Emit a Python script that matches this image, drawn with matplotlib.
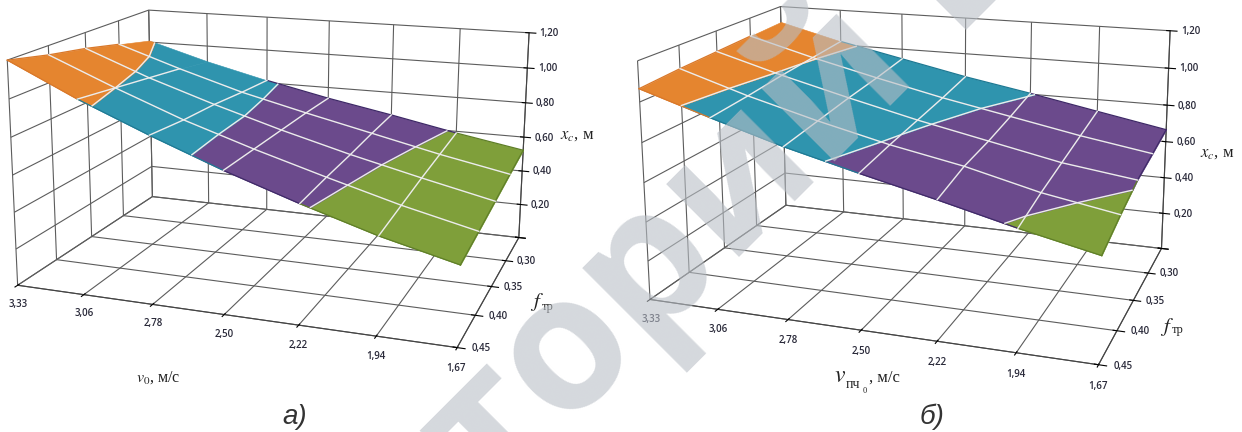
import matplotlib
matplotlib.use("Agg")
import matplotlib.pyplot as plt
import numpy as np
from mpl_toolkits.mplot3d import proj3d
from mpl_toolkits.mplot3d.art3d import Poly3DCollection

plt.rcParams['font.family'] = ['Open Sans', 'DejaVu Sans']
plt.rcParams['mathtext.fontset'] = 'stix'

speeds = ['3,33', '3,06', '2,78', '2,50', '2,22', '1,94', '1,67']
frictions = ['0,45', '0,40', '0,35', '0,30']
heights = ['0,20', '0,40', '0,60', '0,80', '1,00', '1,20']
height_ticks = [0.2, 0.4, 0.6, 0.8, 1.0, 1.2]

# x_c, rows go from f=0.45 (front) to the back of the chart
xc_a = [
    [1.20, 1.03, 0.88, 0.74, 0.615, 0.50, 0.406],
    [1.15, 1.00, 0.86, 0.74, 0.63, 0.525, 0.435],
    [1.11, 0.97, 0.85, 0.74, 0.64, 0.55, 0.465],
    [1.06, 0.94, 0.83, 0.74, 0.655, 0.57, 0.495],
    [1.01, 0.905, 0.815, 0.735, 0.665, 0.59, 0.523],
]
xc_b = [
    [1.065, 0.955, 0.85, 0.76, 0.675, 0.585, 0.505],
    [1.08, 0.97, 0.875, 0.79, 0.72, 0.63, 0.565],
    [1.09, 0.99, 0.90, 0.815, 0.74, 0.665, 0.615],
    [1.10, 1.005, 0.92, 0.84, 0.77, 0.70, 0.64],
    [1.11, 1.02, 0.945, 0.87, 0.805, 0.735, 0.666],
]

band_edges = [0.2, 0.4, 0.6, 0.8, 1.0, 1.2]
band_colors = ['#7f9f3a', '#7f9f3a', '#6b4a8c', '#2f94ae', '#e5852f']
band_dark = ['#5f7f28', '#5f7f28', '#3f2a68', '#1f7a94', '#d9782a']
line_white = '#ececec'


def fit_camera(ax, corners_px):
    """Projection matrix so that the box corners land on the given pixels."""
    ax.apply_aspect()
    to_data = ax.transData.inverted()
    A, b = [], []
    for (x, y, z), (px, py) in corners_px.items():
        u, v = to_data.transform((px, 432 - py))
        A.append([x, y, z, 1, 0, 0, 0, 0, -u*x, -u*y, -u*z])
        A.append([0, 0, 0, 0, x, y, z, 1, -v*x, -v*y, -v*z])
        b += [u, v]
    p = np.linalg.lstsq(np.array(A), np.array(b), rcond=None)[0]
    M = np.array([p[:4], p[4:8], [-1/6, 1/4, -1/1.2, 0], [p[8], p[9], p[10], 1.0]])
    ax.get_proj = lambda: M


def clip_band(cell, lo, hi):
    for limit, keep_below in ((lo, False), (hi, True)):
        out = []
        for k, p in enumerate(cell):
            q = cell[(k+1) % len(cell)]
            p_in = p[2] <= limit if keep_below else p[2] >= limit
            q_in = q[2] <= limit if keep_below else q[2] >= limit
            if p_in:
                out.append(p)
            if p_in != q_in:
                t = (limit - p[2]) / (q[2] - p[2])
                out.append((p[0] + t*(q[0]-p[0]), p[1] + t*(q[1]-p[1]), limit))
        cell = out
        if not cell:
            break
    return cell


def tick_text(ax, x, y, z, s, ha):
    u, v, _ = proj3d.proj_transform(x, y, z, ax.get_proj())
    ax.text2D(u, v, s, transform=ax.transData, ha=ha, va='center', fontsize=7,
              fontweight='semibold', color='#2a2a3a')


def outline(ax, xs, ys, zs):
    # darker edge of the surface, coloured by band
    for k in range(len(zs)-1):
        mid = (zs[k] + zs[k+1]) / 2
        col = band_dark[np.searchsorted(band_edges, mid) - 1]
        ax.plot(xs[k:k+2], ys[k:k+2], zs[k:k+2], color=col, lw=0.9, zorder=2.5)


def surface_chart(left, corners_px, xc):
    ax = fig.add_axes([left/1242, -100/432, 640/1242, 640/432], projection='3d',
                      facecolor='none', computed_zorder=False)
    ax.set_xlim(0, 6)
    ax.set_ylim(0, 4)
    ax.set_zlim(0, 1.2)
    fit_camera(ax, corners_px)

    xc = np.array(xc)
    rows, cols = xc.shape
    for j in range(rows-1):
        for i in range(cols-1):
            # split each cell into the colour bands
            cell = [(i, j, xc[j, i]), (i+1, j, xc[j, i+1]), (i+1, j+1, xc[j+1, i+1]), (i, j+1, xc[j+1, i])]
            for lo, hi, col in zip(band_edges[:-1], band_edges[1:], band_colors):
                poly = clip_band(cell, lo, hi)
                if len(poly) > 2:
                    ax.add_collection3d(Poly3DCollection([poly], facecolor=col, edgecolor=col,
                                                         linewidth=0.4, zorder=2))
    for j in (0, rows-1):
        outline(ax, np.arange(cols), np.full(cols, j), xc[j])
    for i in (0, cols-1):
        outline(ax, np.full(rows, i), np.arange(rows), xc[:, i])
    for j in range(1, rows-1):
        ax.plot(np.arange(cols), np.full(cols, j), xc[j], color=line_white, lw=1.0, zorder=3)
    for i in range(1, cols-1):
        ax.plot(np.full(rows, i), np.arange(rows), xc[:, i], color=line_white, lw=1.0, zorder=3)
    X, Y = np.meshgrid(np.arange(cols), np.arange(rows))
    ax.contour(X, Y, xc, levels=[0.6, 0.8, 1.0], colors=line_white, linewidths=1.0, zorder=3)

    ax.set_xticks(range(7))
    ax.set_yticks(range(5))
    ax.set_zticks([0] + height_ticks)
    for axis in (ax.xaxis, ax.yaxis, ax.zaxis):
        axis.set_tick_params(label1On=False, label2On=False)
        axis.set_pane_color((1, 1, 1, 0))
        axis._axinfo['grid']['color'] = '#5c5c5c'
        axis._axinfo['grid']['linewidth'] = 0.8
        axis.line.set_color('#444444')

    for i, s in enumerate(speeds):
        tick_text(ax, i, 0, -0.105, s, 'center')
    for j, s in enumerate(frictions):
        tick_text(ax, 6.29, j, 0.01, s, 'center')
    for z, s in zip(height_ticks, heights):
        tick_text(ax, 6.15, 4, z, s, 'left')
    return ax


def label(px, py, s, size, **kw):
    kw.setdefault('family', ['Liberation Serif', 'DejaVu Serif'])
    kw.setdefault('color', '#222222')
    fig.text(px/1242, 1 - py/432, s, fontsize=size, ha='center', va='center', **kw)


fig = plt.figure(figsize=(12.42, 4.32), dpi=100)

corners_a = {(0, 0, 0): (18, 285), (6, 0, 0): (457, 348), (6, 4, 0): (519, 237), (0, 4, 0): (152, 197),
             (0, 4, 1.2): (149, 10), (6, 4, 1.2): (529, 33), (0, 0, 1.2): (7, 60)}
corners_b = {(0, 0, 0): (651, 300), (6, 0, 0): (1098, 365), (6, 4, 0): (1162, 248), (0, 4, 0): (785, 205),
             (0, 4, 1.2): (781, 7), (6, 4, 1.2): (1170, 31), (0, 0, 1.2): (637, 60)}

surface_chart(-10, corners_a, xc_a)
surface_chart(620, corners_b, xc_b)

label(577, 135, r'$x_c$, м', 12)
label(537, 302, r'$f$', 15)
label(548, 307, 'тр', 9)
label(158, 378, r'$v_{0}$, м/с', 11.5)

label(1217, 153, r'$x_c$, м', 12)
label(1167, 327, r'$f$', 15)
label(1178, 330, 'тр', 9)
label(840, 377, r'$v$', 17)
label(853, 385, 'пч', 10)
label(865, 391, '0', 6)
label(884, 378, ', м/с', 12)

sans_italic = dict(family='Liberation Sans', style='italic', color='#333333')
label(295, 417, 'а)', 20, **sans_italic)
label(932, 417, 'б)', 20, **sans_italic)

# watermark across both charts
fig.text(490/1242, 1 - 506/432, 'торий БНТУ', fontsize=135, fontweight='bold', family='Open Sans',
         rotation=45, rotation_mode='anchor', ha='left', va='baseline',
         color='#b9bfc6', alpha=0.6, zorder=10)

fig.savefig('out.png', dpi=100)
